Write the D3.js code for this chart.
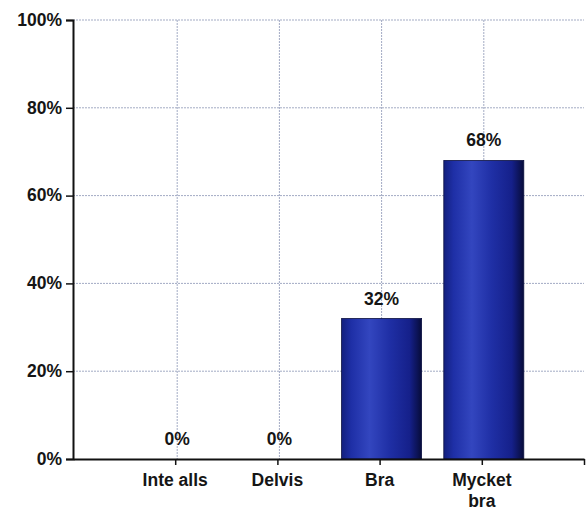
<!DOCTYPE html>
<html><head><meta charset="utf-8">
<script src="https://cdn.jsdelivr.net/npm/d3@7"></script>
<style>body{margin:0;background:#fff}svg{display:block}</style>
</head><body>
<svg id="c" width="586" height="516"></svg>
<script>
const categories = ["Inte alls", "Delvis", "Bra", "Mycket bra"];
const values = [0, 0, 32, 68];
const yTicks = [0, 20, 40, 60, 80, 100];

(function () {
const svg = d3.select("#c");
const mLeft = 73, mRight = 584, mTop = 20, mBottom = 459;
const x = d3.scaleLinear().domain([0, 5]).range([mLeft, mRight]);
const y = d3.scaleLinear().domain([0, 100]).range([mBottom, mTop]);
const font = "Liberation Sans, Arial, sans-serif";
const fs = 17.5;

const defs = svg.append("defs");
const g = defs.append("linearGradient").attr("id", "bar").attr("x1", 0).attr("x2", 1).attr("y1", 0).attr("y2", 0);
[[0, "#13207e"], [0.12, "#1e2fa6"], [0.35, "#3346bf"], [0.6, "#1f2fa5"], [0.85, "#15208a"], [1, "#070c3a"]]
  .forEach(([o, c]) => g.append("stop").attr("offset", o).attr("stop-color", c));

// gridlines
svg.append("g").selectAll("line").data(yTicks.filter(d => d > 0)).join("line")
  .attr("x1", mLeft).attr("x2", mRight).attr("y1", d => y(d)).attr("y2", d => y(d))
  .attr("stroke", "#a3abc4").attr("stroke-width", 1).attr("stroke-dasharray", "2,1");
svg.append("g").selectAll("line").data(categories).join("line")
  .attr("x1", (d, i) => x(i + 1) + 2).attr("x2", (d, i) => x(i + 1) + 2)
  .attr("y1", mTop).attr("y2", mBottom)
  .attr("stroke", "#a3abc4").attr("stroke-width", 1).attr("stroke-dasharray", "2,1");

// bars
const bw = 80;
svg.append("g").selectAll("rect").data(values).join("rect")
  .attr("x", (d, i) => x(i + 1) + 2 - bw / 2).attr("width", bw)
  .attr("y", d => y(d)).attr("height", d => mBottom - y(d))
  .attr("fill", "url(#bar)").attr("stroke", "#0a0f40").attr("stroke-width", 0.8);

// value labels
svg.append("g").selectAll("text").data(values).join("text")
  .attr("x", (d, i) => x(i + 1) + 2).attr("y", d => y(d) - 14)
  .attr("text-anchor", "middle").attr("font-family", font).attr("font-size", fs).attr("font-weight", "bold")
  .attr("fill", "#151515").text(d => d + "%");

// y axis
const ya = svg.append("g").attr("transform", `translate(${mLeft},0)`)
  .call(d3.axisLeft(y).tickValues(yTicks).tickFormat(d => d + "%").tickSize(7).tickPadding(4));
ya.select(".domain").attr("stroke", "#111").attr("stroke-width", 2);
ya.selectAll(".tick line").attr("stroke", "#111").attr("stroke-width", 1.5);
ya.selectAll("text").attr("font-family", font).attr("font-size", fs).attr("font-weight", "bold").attr("fill", "#151515").attr("dy", "0.3em");

// x axis
const xa = svg.append("g").attr("transform", `translate(0,${mBottom})`)
  .call(d3.axisBottom(x).tickValues([1, 2, 3, 4, 5]).tickFormat("").tickSize(6).tickSizeOuter(0));
xa.select(".domain").attr("stroke", "#111").attr("stroke-width", 2);
xa.selectAll(".tick line").attr("stroke", "#111").attr("stroke-width", 1.5);

const xl = svg.append("g").selectAll("text").data(categories).join("text")
  .attr("x", (d, i) => x(i + 1)).attr("y", 486)
  .attr("text-anchor", "middle").attr("font-family", font).attr("font-size", fs).attr("font-weight", "bold")
  .attr("fill", "#151515");
xl.each(function(d) {
  const words = d === "Mycket bra" ? ["Mycket", "bra"] : [d];
  words.forEach((w, k) => d3.select(this).append("tspan").attr("x", d3.select(this).attr("x")).attr("dy", k ? 21 : 0).text(w));
});
})();
</script>
</body></html>
